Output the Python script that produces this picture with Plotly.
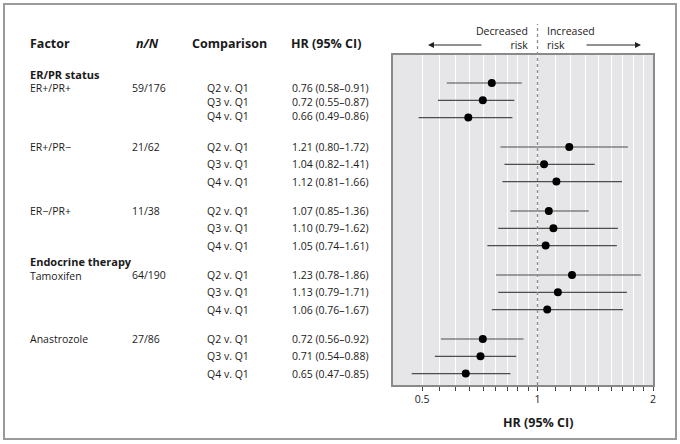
import math
import plotly.graph_objects as go

# ---- data ----
groups = ["ER+/PR+", "ER+/PR\u2212", "ER\u2212/PR+", "Tamoxifen", "Anastrozole"]
n_over_N = ["59/176", "21/62", "11/38", "64/190", "27/86"]
comparisons = ["Q2 v. Q1", "Q3 v. Q1", "Q4 v. Q1"]
hr = [[0.76, 0.72, 0.66], [1.21, 1.04, 1.12], [1.07, 1.10, 1.05], [1.23, 1.13, 1.06], [0.72, 0.71, 0.65]]
ci_lo = [[0.58, 0.55, 0.49], [0.80, 0.82, 0.81], [0.85, 0.79, 0.74], [0.78, 0.79, 0.76], [0.56, 0.54, 0.47]]
ci_hi = [[0.91, 0.87, 0.86], [1.72, 1.41, 1.66], [1.36, 1.62, 1.61], [1.86, 1.71, 1.67], [0.92, 0.88, 0.85]]
section_titles = ["ER/PR status", "Endocrine therapy"]
tick_labels = {0.5: "0.5", 1: "1", 2: "2"}

# ---- layout helpers (pixel geometry) ----
W, H = 680, 444
PL, PR, PT, PB = 393, 653, 55, 385
FONT = "Open Sans"


def px(xp):
    return (xp - PL) / (PR - PL)


def py(yp):
    return (PB - yp) / (PB - PT)


def row_y(g, i):
    return 83 + 64 * g + 17.3 * i


text_offsets = [[5, 2, -1.5], [0, 0, 0], [0, 0, 0], [0, 0, 0], [0, 0, 0]]

fig = go.Figure()

# CI lines
xs, ys, dx, dy = [], [], [], []
for g in range(len(groups)):
    for i in range(3):
        xs += [ci_lo[g][i], ci_hi[g][i], None]
        y = row_y(g, i)
        ys += [y, y, None]
        dx.append(hr[g][i])
        dy.append(y)
fig.add_trace(go.Scatter(x=xs, y=ys, mode="lines", line=dict(color="#4d4d4d", width=1.2),
                         hoverinfo="skip", showlegend=False))
fig.add_trace(go.Scatter(x=dx, y=dy, mode="markers", marker=dict(color="black", size=8),
                         showlegend=False))

ann = []


def txt(x, y, s, size=10, bold=False, anchor="left", color="#1a1a1a", italic=False, align="left"):
    if bold:
        s = "<b>" + s + "</b>"
    if italic:
        s = "<i>" + s + "</i>"
    ann.append(dict(x=px(x), y=py(y), xref="paper", yref="paper", text=s, showarrow=False,
                    xanchor=anchor, yanchor="middle", align=align,
                    font=dict(family=FONT, size=size, color=color)))


# headers
txt(28, 44, "Factor", size=12.5, bold=True)
txt(134, 44, "n/N", size=12.5, bold=True, italic=True)
txt(190, 44, "Comparison", size=12.5, bold=True)
txt(289, 44, "HR (95% CI)", size=12.5, bold=True)
txt(28, 74, section_titles[0], size=11, bold=True)
txt(28, 261, section_titles[1], size=11, bold=True)

for g in range(len(groups)):
    for i in range(3):
        y = row_y(g, i) + text_offsets[g][i]
        if i == 0:
            txt(28, y + (1 if g == 3 else 0), groups[g], size=10.5)
            txt(130, y, n_over_N[g], size=10.5)
        txt(205, y, comparisons[i], size=10.5)
        txt(290, y, "%.2f (%.2f\u2013%.2f)" % (hr[g][i], ci_lo[g][i], ci_hi[g][i]), size=10.5)

# risk labels
txt(530, 38, "Decreased<br>risk", size=10.5, anchor="right", align="right")
txt(545, 38, "Increased<br>risk", size=10.5, anchor="left", align="left")

# arrows
ann.append(dict(x=px(428), y=py(45), xref="paper", yref="paper", ax=55, ay=0, axref="pixel", ayref="pixel",
                showarrow=True, arrowhead=2, arrowsize=1.2, arrowwidth=1, arrowcolor="#222", text=""))
ann.append(dict(x=px(641), y=py(45), xref="paper", yref="paper", ax=-56, ay=0, axref="pixel", ayref="pixel",
                showarrow=True, arrowhead=2, arrowsize=1.2, arrowwidth=1, arrowcolor="#222", text=""))

# axis title centred on HR = 1 (log axis: annotation x is log10 value)
ann.append(dict(x=math.log10(1), y=py(422), xref="x", yref="paper", text="<b>HR (95% CI)</b>", showarrow=False,
                xanchor="center", yanchor="middle", font=dict(family=FONT, size=12.5, color="#1a1a1a")))

shapes = [
    # outer frame
    dict(type="rect", xref="paper", yref="paper", x0=px(4), x1=px(676), y0=py(439), y1=py(4),
         line=dict(color="#9a9a9a", width=2), layer="below"),
    # reference line at HR=1
    dict(type="line", xref="x", yref="paper", x0=1, x1=1, y0=0, y1=py(24),
         line=dict(color="#8c8c8c", width=1.3, dash="dot"), layer="above"),
]

tickvals = [0.5 + k / 18 for k in range(10)] + [1 + k / 9 for k in range(1, 10)]
ticktext = [next((lab for v0, lab in tick_labels.items() if abs(v - v0) < 1e-9), "") for v in tickvals]

fig.update_layout(
    width=W, height=H,
    margin=dict(l=PL, r=W - PR, t=PT, b=H - PB),
    paper_bgcolor="white", plot_bgcolor="#e6e6e8",
    annotations=ann, shapes=shapes,
    xaxis=dict(type="log", range=[math.log10(0.42), math.log10(2)], tickmode="array",
               tickvals=tickvals, ticktext=ticktext, showgrid=True, gridcolor="white", gridwidth=1,
               ticks="outside", ticklen=4, tickcolor="#444", tickwidth=1,
               showline=True, linecolor="#8a8a8a", linewidth=1.5, mirror=True, zeroline=False,
               tickfont=dict(family=FONT, size=10.5, color="#222")),
    yaxis=dict(range=[PB, PT], showgrid=False, showticklabels=False, ticks="", zeroline=False,
               showline=True, linecolor="#8a8a8a", linewidth=1.5, mirror=True),
    showlegend=False,
)

fig.write_html("out.html", config={"displayModeBar": False},
               post_script="document.body.style.margin='0px';")
